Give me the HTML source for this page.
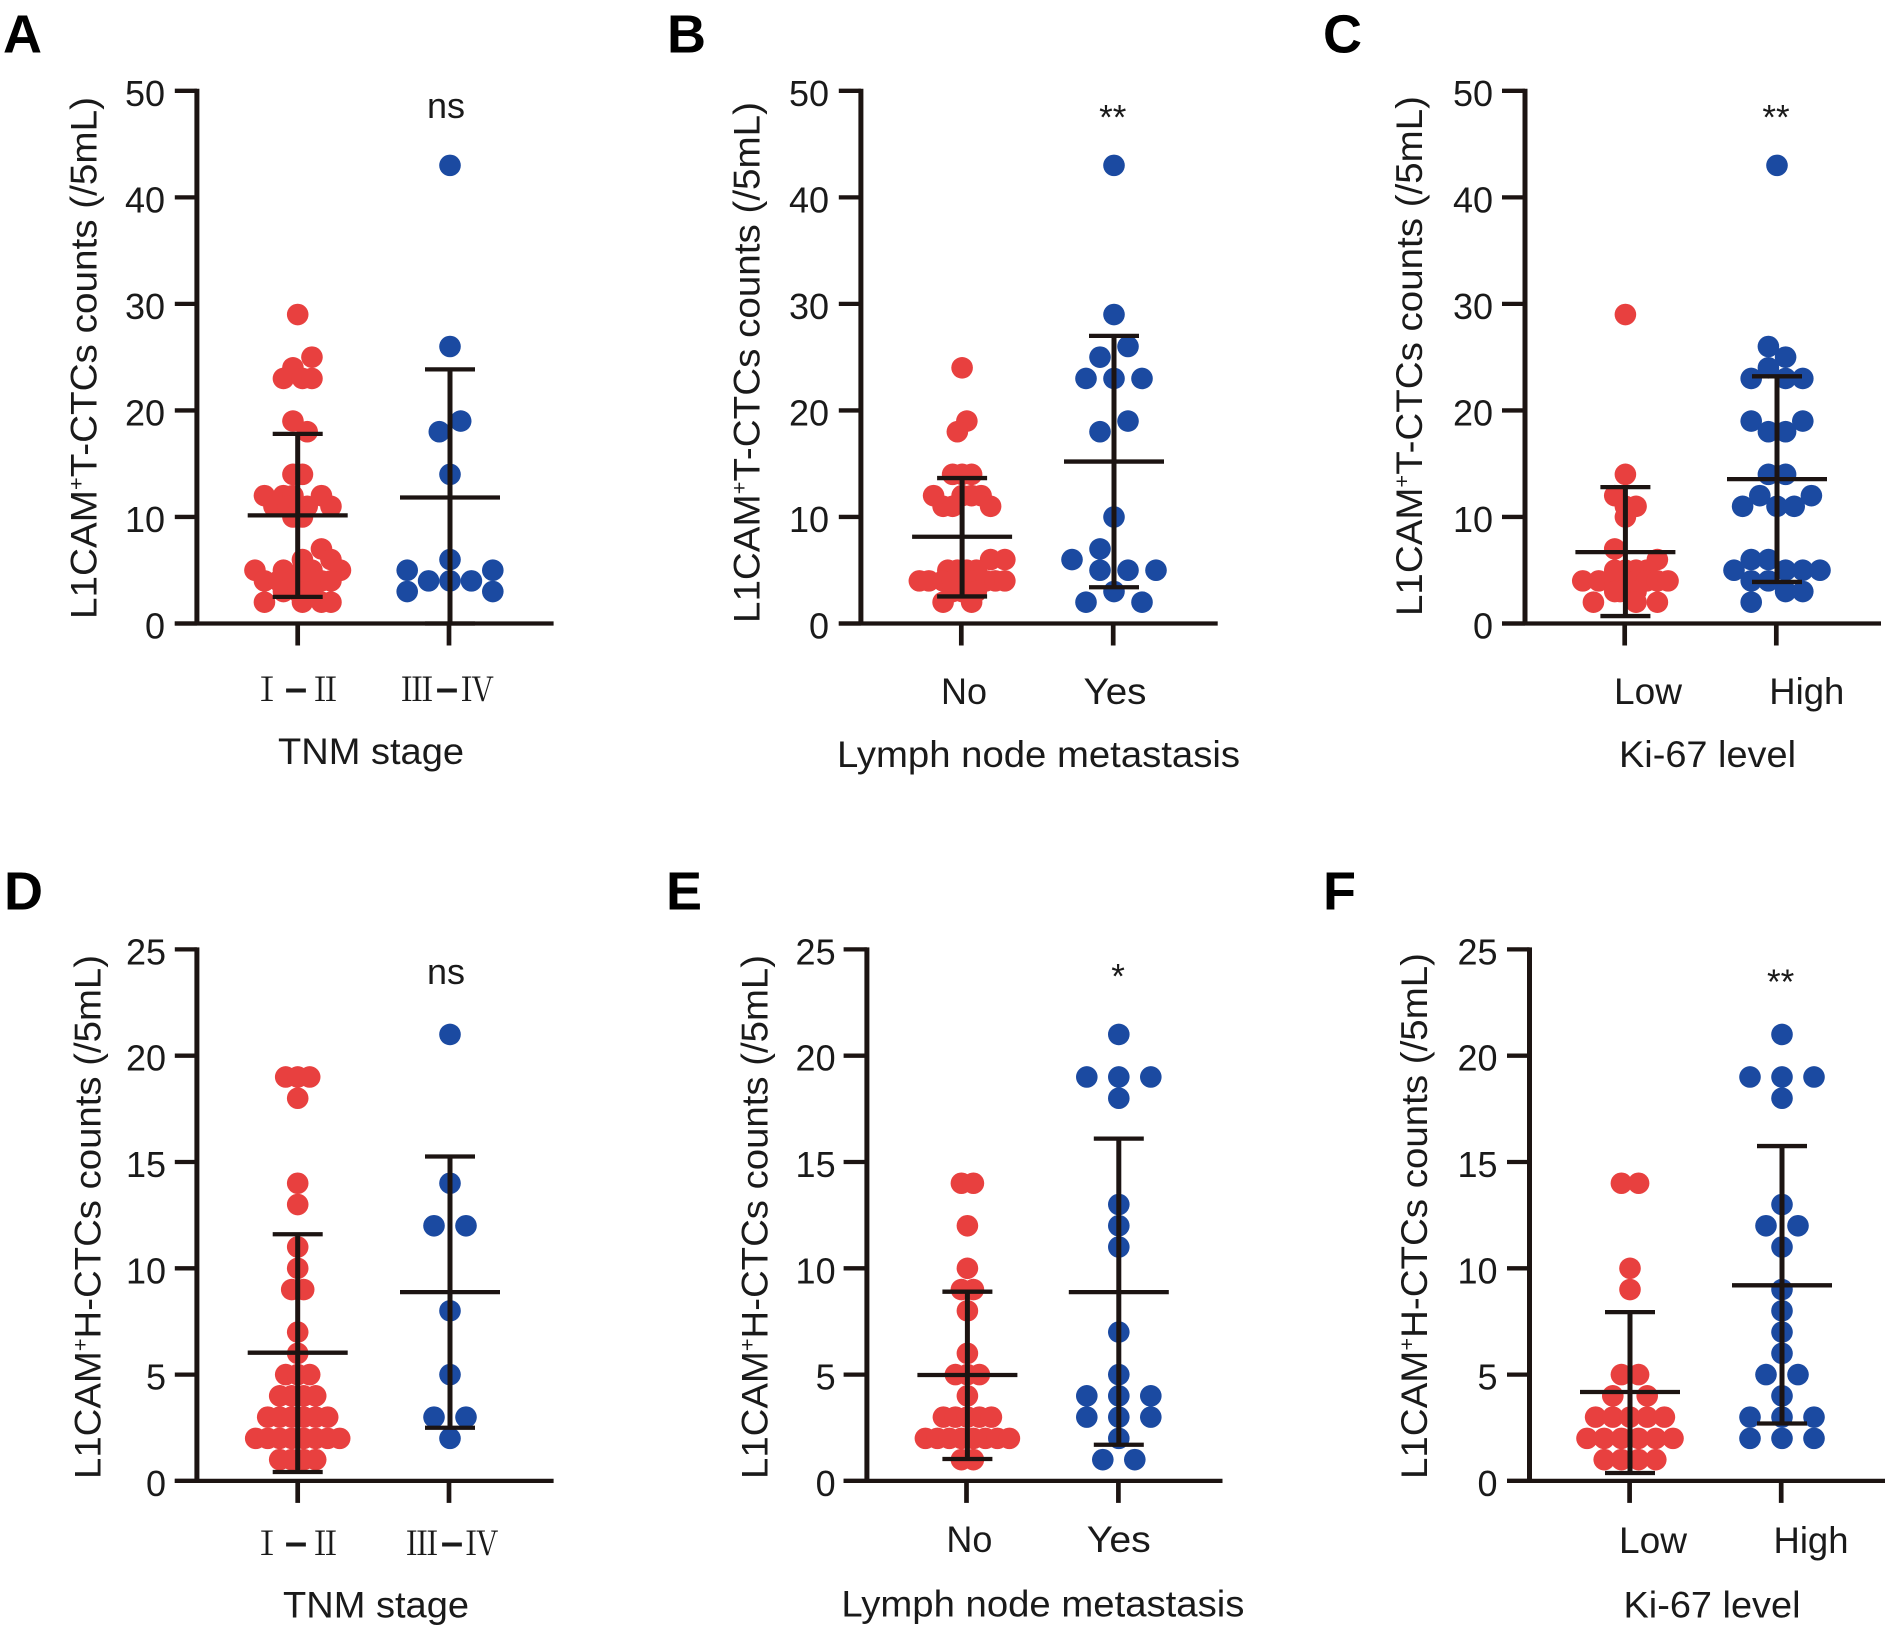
<!DOCTYPE html>
<html lang="en">
<head>
<meta charset="utf-8">
<title>L1CAM CTC counts by clinical group</title>
<style>
html,body{margin:0;padding:0;background:#fff;}
svg{display:block;font-family:"Liberation Sans",Arial,sans-serif;}
</style>
</head>
<body>
<svg id="figure" xmlns="http://www.w3.org/2000/svg" width="1890" height="1629" viewBox="0 0 1890 1629"></svg>
<script>
// ---------- tick labels ----------
const tTicks = [0, 10, 20, 30, 40, 50];
const hTicks = [0, 5, 10, 15, 20, 25];

// ---------- categories ----------
const tnmCategories = ["Ⅰ–Ⅱ", "Ⅲ–Ⅳ"];
const lymphCategories = ["No", "Yes"];
const kiCategories = ["Low", "High"];

// ---------- panel A ----------
const aStage12Values = [29,25,24,23,23,23,19,18,14,14,12,12,12,12,11,11,11,11,10,10,7,6,6,5,5,5,5,5,4,4,4,4,4,4,3,3,3,2,2,2,2];
const aStage12Swarm  = [0,3,-1,-3,1,3,-1,2,-1,1,-7,-3,-1,5,-5,-2,2,7,-1,1,5,1,7,-9,-3,1,3,9,-7,-4,-1,2,5,7,-3,0,3,-7,1,5,7];
const aStage12Stats  = [10.15,17.8,2.5];
const aStage34Values = [43,26,19,18,14,6,5,5,4,4,4,3,3];
const aStage34Swarm  = [0,0,1,-1,0,0,-4,4,-2,0,2,-4,4];
const aStage34Stats  = [11.83,23.85,0];

// ---------- panel B ----------
const bNoValues = [24,19,18,14,14,14,12,12,12,12,11,11,11,6,6,5,5,5,5,4,4,4,4,4,4,4,4,4,3,3,3,2,2];
const bNoSwarm  = [0,1,-1,-2,0,2,-6,0,2,4,-4,-2,6,6,9,-3,-1,1,3,-9,-7,-4,-2,0,2,5,7,9,-2,0,3,-4,2];
const bNoStats  = [8.14,13.65,2.54];
const bYesValues = [43,29,26,25,23,23,23,19,18,10,7,6,5,5,5,3,2,2];
const bYesSwarm  = [0,0,1,-1,-2,0,2,1,-1,0,-1,-3,-1,1,3,0,-2,2];
const bYesStats  = [15.2,27,3.4];

// ---------- panel C ----------
const cLowValues = [29,14,12,11,11,10,7,6,5,5,5,5,4,4,4,4,4,4,4,4,3,3,3,3,2,2,2];
const cLowSwarm  = [0,0,-2,0,2,0,-2,6,-2,0,4,2,-8,-5,-2,0,2,4,6,8,-2,0,2,-1,-6,2,6];
const cLowStats  = [6.7,12.8,0.7];
const cHighValues = [43,26,25,24,23,23,23,19,19,18,18,14,14,12,12,11,11,11,6,6,5,5,5,5,4,4,3,3,2];
const cHighSwarm  = [0,-1,1,-1,-3,1,3,-3,3,-1,1,-1,1,-2,4,-4,0,2,-3,-1,-5,1,3,5,-3,-1,1,3,-3];
const cHighStats  = [13.55,23.2,3.9];

// ---------- panel D ----------
const dStage12Values = [19,19,19,18,14,13,11,10,9,9,7,6,5,5,5,4,4,4,4,3,3,3,3,3,3,2,2,2,2,2,2,2,2,1,1,1,1];
const dStage12Swarm  = [-2,0,2,0,0,0,0,0,-1,1,0,0,-2,0,2,-3,-1,1,3,-5,-3,-1,1,3,5,-7,-5,-3,-1,1,3,5,7,-3,-1,1,3];
const dStage12Stats  = [6.03,11.6,0.42];
const dStage34Values = [21,14,12,12,8,5,3,3,2];
const dStage34Swarm  = [0,0,-1,1,0,0,-1,1,0];
const dStage34Stats  = [8.88,15.26,2.5];

// ---------- panel E ----------
const eNoValues = [14,14,12,10,9,9,8,6,5,5,5,4,3,3,3,3,3,2,2,2,2,2,2,2,2,1,1];
const eNoSwarm  = [-1,1,0,0,-1,1,0,0,-2,0,2,0,-4,-2,0,2,4,-7,-5,-3,-1,1,3,5,7,-1,1];
const eNoStats  = [4.98,8.9,1.03];
const eYesValues = [21,19,19,19,18,13,12,11,7,5,4,4,4,3,3,3,2,1,1];
const eYesSwarm  = [0,-2,0,2,0,0,0,0,0,0,-2,0,2,-2,0,2,0,-1,1];
const eYesStats  = [8.88,16.1,1.7];

// ---------- panel F ----------
const fLowValues = [14,14,10,9,5,5,4,4,3,3,3,3,3,2,2,2,2,2,2,1,1,1,1];
const fLowSwarm  = [-1,1,0,0,-1,1,-2,2,-4,-2,0,2,4,-5,-3,-1,1,3,5,-3,-1,1,3];
const fLowStats  = [4.18,7.94,0.37];
const fHighValues = [21,19,19,19,18,13,12,12,11,9,8,7,6,5,5,4,3,3,3,2,2,2];
const fHighSwarm  = [0,-2,0,2,0,0,-1,1,0,0,0,0,0,-1,1,0,-2,0,2,-2,0,2];
const fHighStats  = [9.2,15.75,2.7];

// ---------- rendering ----------
const NS = "http://www.w3.org/2000/svg";
const svg = document.getElementById("figure");
const INK = "#1c1412";
const RED = "#e8403f";
const BLUE = "#1b4aa1";
const SERIF = '"Noto Serif CJK SC","Liberation Serif",serif';

function make(tag, attrs, parent) {
  const el = document.createElementNS(NS, tag);
  for (const k in attrs) el.setAttribute(k, attrs[k]);
  parent.appendChild(el);
  return el;
}

function drawLine(parent, x1, y1, x2, y2, w, name) {
  const el = make("line", {x1: x1, y1: y1, x2: x2, y2: y2, stroke: INK, "stroke-width": w}, parent);
  
  
  return el;
}

function drawText(parent, str, x, y, size, anchor, name, extra) {
  const el = make("text", Object.assign({x: x, y: y, "font-size": size, "text-anchor": anchor, fill: "#1a1a1a"}, extra || {}), parent);
  el.textContent = str;
  
  
  return el;
}

function drawGroup(g, yScale, cx, values, swarm, slotPx, stats, color, name) {
  values.forEach(function (v, i) {
    const s = swarm[i] || 0;
    const c = make("circle", {cx: cx + s * slotPx, cy: yScale(v), r: 10.8, fill: color}, g);
    
    
  });
  const mean = stats[0], upper = stats[1], lower = stats[2];
  drawLine(g, cx, yScale(upper), cx, yScale(lower), 5, name + '-error-stem');
  drawLine(g, cx - 25, yScale(upper), cx + 25, yScale(upper), 4.3, name + '-upper-cap');
  drawLine(g, cx - 25, yScale(lower), cx + 25, yScale(lower), 4.3, name + '-lower-cap');
  drawLine(g, cx - 50, yScale(mean), cx + 50, yScale(mean), 4.3, name + '-mean-line');
}

function drawRoman(g, str, c, y) {
  const parts = str.split("–");
  const el = make("text", {y: y, fill: "#1a1a1a", "text-anchor": "middle"}, g);
  
  
  const left = make("tspan", {x: c[0], "font-size": 33, "font-family": SERIF}, el);
  left.textContent = parts[0];
  const dash = make("tspan", {x: c[1], "font-size": 40, "font-weight": "bold"}, el);
  dash.textContent = "–";
  const right = make("tspan", {x: c[2], "font-size": 33, "font-family": SERIF}, el);
  right.textContent = parts[1];
}

function drawPanel(p) {
  const g = make("g", {}, svg);
  
  

  const maxTick = p.ticks[p.ticks.length - 1];
  const yScale = function (v) { return p.y0 + (p.yTop - p.y0) * v / maxTick; };

  const letter = drawText(g, p.letter, p.letterX, p.letterY, 54, "start", 'panel-letter', {"font-weight": "bold", fill: "#000"});
  

  p.groups.forEach(function (gr) {
    drawGroup(g, yScale, gr.cx, gr.values, gr.swarm, gr.slot, gr.stats, gr.color, gr.name);
  });

  drawLine(g, p.axisX, p.yTop - 2, p.axisX, p.y0 + 2, 5, 'y-axis-line');
  drawLine(g, p.tickLeft, p.y0, p.axisEnd, p.y0, 4.3, 'x-axis-line');

  p.ticks.forEach(function (t) {
    const y = yScale(t);
    drawLine(g, p.tickLeft, y, p.axisX, y, 4.3, 'y-tick-mark');
    drawText(g, String(t), p.tickLabelX, y + 15, 36, "end", 'y-tick-label');
  });

  p.xTicks.forEach(function (x) {
    drawLine(g, x, p.y0, x, p.y0 + 22, 4.7, 'x-tick-mark');
  });

  p.catLabels.forEach(function (c, i) {
    const str = p.categories[i];
    if (p.roman) {
      drawRoman(g, str, c, p.catY);
    } else {
      drawText(g, str, c[0], p.catY, 37, "middle", 'x-category-label', {textLength: c[1], lengthAdjust: "spacingAndGlyphs"});
    }
  });

  drawText(g, p.xTitle, p.xTitleX, p.xTitleY, 37, "middle", 'x-axis-title', {textLength: p.xTitleLen, lengthAdjust: "spacingAndGlyphs"});

  // rotated y title
  const ty = make("text", {
    transform: "translate(" + p.yTitleX + "," + p.yTitleStart + ") rotate(-90)",
    x: 0, y: 0, "font-size": 37, fill: "#1a1a1a",
    textLength: p.yTitleLen, lengthAdjust: "spacingAndGlyphs"
  }, g);
  
  
  const a = make("tspan", {}, ty); a.textContent = "L1CAM";
  const b = make("tspan", {dy: -13, "font-size": 21}, ty); b.textContent = "+";
  const c = make("tspan", {dy: 13}, ty); c.textContent = p.yTitleRest;

  drawText(g, p.sig, p.sigX, p.sigY, p.sig === "ns" ? 36 : 35, "middle", 'significance-label');
}

const panels = [
  {letter:"A", letterX:3, letterY:52.5, ticks:tTicks, y0:623.5, yTop:90.8, axisX:196.9, tickLeft:174.8, axisEnd:553.6, tickLabelX:165,
   xTicks:[297.7,449], categories:tnmCategories, roman:true, catLabels:[[267,296,325.5],[417,447,477.5]], catY:701,
   xTitle:"TNM stage", xTitleX:371, xTitleY:764, xTitleLen:186,
   yTitleX:96.6, yTitleStart:619, yTitleLen:522, yTitleRest:"T-CTCs counts (/5mL)",
   sig:"ns", sigX:446, sigY:118,
   groups:[
    {cx:297.7, values:aStage12Values, swarm:aStage12Swarm, slot:4.75, stats:aStage12Stats, color:RED, name:'stage-i-ii'},
    {cx:450, values:aStage34Values, swarm:aStage34Swarm, slot:10.7, stats:aStage34Stats, color:BLUE, name:'stage-iii-iv'}]},
  {letter:"B", letterX:667, letterY:52.5, ticks:tTicks, y0:623.5, yTop:90.8, axisX:860.9, tickLeft:838.8, axisEnd:1217.7, tickLabelX:829,
   xTicks:[961.3,1113.2], categories:lymphCategories, catLabels:[[964,46],[1115,63]], catY:704,
   xTitle:"Lymph node metastasis", xTitleX:1038.5, xTitleY:767, xTitleLen:403,
   yTitleX:759.6, yTitleStart:623, yTitleLen:521, yTitleRest:"T-CTCs counts (/5mL)",
   sig:"**", sigX:1112.8, sigY:129.5,
   groups:[
    {cx:962.1, values:bNoValues, swarm:bNoSwarm, slot:4.75, stats:bNoStats, color:RED, name:'lymph-no'},
    {cx:1114, values:bYesValues, swarm:bYesSwarm, slot:14, stats:bYesStats, color:BLUE, name:'lymph-yes'}]},
  {letter:"C", letterX:1323, letterY:52.5, ticks:tTicks, y0:623.5, yTop:90.8, axisX:1525, tickLeft:1502, axisEnd:1881, tickLabelX:1493,
   xTicks:[1624.7,1776.3], categories:kiCategories, catLabels:[[1648,68],[1806.8,75]], catY:704,
   xTitle:"Ki-67 level", xTitleX:1707.5, xTitleY:767, xTitleLen:177,
   yTitleX:1422, yTitleStart:616, yTitleLen:520, yTitleRest:"T-CTCs counts (/5mL)",
   sig:"**", sigX:1776, sigY:129.5,
   groups:[
    {cx:1625.4, values:cLowValues, swarm:cLowSwarm, slot:5.33, stats:cLowStats, color:RED, name:'ki67-low'},
    {cx:1777, values:cHighValues, swarm:cHighSwarm, slot:8.6, stats:cHighStats, color:BLUE, name:'ki67-high'}]},
  {letter:"D", letterX:4, letterY:909.6, ticks:hTicks, y0:1480.9, yTop:949.4, axisX:196.9, tickLeft:174.8, axisEnd:553.6, tickLabelX:166,
   xTicks:[297.7,449], categories:tnmCategories, roman:true, catLabels:[[267,296,325.5],[422,452,482]], catY:1555,
   xTitle:"TNM stage", xTitleX:376, xTitleY:1617.5, xTitleLen:186,
   yTitleX:100.4, yTitleStart:1479, yTitleLen:524, yTitleRest:"H-CTCs counts (/5mL)",
   sig:"ns", sigX:446, sigY:984,
   groups:[
    {cx:297.7, values:dStage12Values, swarm:dStage12Swarm, slot:6, stats:dStage12Stats, color:RED, name:'stage-i-ii'},
    {cx:450, values:dStage34Values, swarm:dStage34Swarm, slot:16, stats:dStage34Stats, color:BLUE, name:'stage-iii-iv'}]},
  {letter:"E", letterX:666, letterY:909.6, ticks:hTicks, y0:1480.9, yTop:949.4, axisX:866.9, tickLeft:843.6, axisEnd:1222.5, tickLabelX:835.6,
   xTicks:[966.5,1118.4], categories:lymphCategories, catLabels:[[969.4,46],[1118.8,64]], catY:1552,
   xTitle:"Lymph node metastasis", xTitleX:1042.9, xTitleY:1616.5, xTitleLen:403,
   yTitleX:767.7, yTitleStart:1479, yTitleLen:524, yTitleRest:"H-CTCs counts (/5mL)",
   sig:"*", sigX:1118, sigY:988.7,
   groups:[
    {cx:967.4, values:eNoValues, swarm:eNoSwarm, slot:6, stats:eNoStats, color:RED, name:'lymph-no'},
    {cx:1118.8, values:eYesValues, swarm:eYesSwarm, slot:16, stats:eYesStats, color:BLUE, name:'lymph-yes'}]},
  {letter:"F", letterX:1323, letterY:909.6, ticks:hTicks, y0:1480.9, yTop:949.4, axisX:1529.5, tickLeft:1507, axisEnd:1885, tickLabelX:1497.5,
   xTicks:[1629.6,1781.2], categories:kiCategories, catLabels:[[1653,68],[1811,75]], catY:1553,
   xTitle:"Ki-67 level", xTitleX:1712, xTitleY:1617.5, xTitleLen:177,
   yTitleX:1427, yTitleStart:1479, yTitleLen:526, yTitleRest:"H-CTCs counts (/5mL)",
   sig:"**", sigX:1780.6, sigY:994,
   groups:[
    {cx:1630, values:fLowValues, swarm:fLowSwarm, slot:8.6, stats:fLowStats, color:RED, name:'ki67-low'},
    {cx:1782, values:fHighValues, swarm:fHighSwarm, slot:16, stats:fHighStats, color:BLUE, name:'ki67-high'}]}
];

panels.forEach(drawPanel);
</script>
</body>
</html>
